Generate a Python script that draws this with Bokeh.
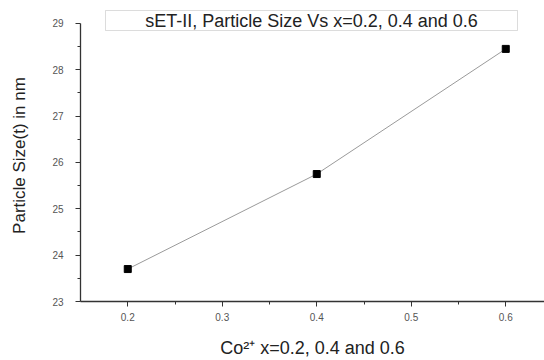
from bokeh.plotting import figure
from bokeh.models import Label, BoxAnnotation, Range1d, FixedTicker
from bokeh.embed import file_html
from bokeh.resources import INLINE

# Cobalt content x and measured particle size (nm)
x_values = [0.2, 0.4, 0.6]
size_nm = [23.70, 25.75, 28.45]

x_ticks = [0.2, 0.3, 0.4, 0.5, 0.6]
y_ticks = [23, 24, 25, 26, 27, 28, 29]

title_text = "sET-II, Particle Size Vs x=0.2, 0.4 and 0.6"
y_label_text = "Particle Size(t) in nm"
x_label_text = "Co\u00b2\u207a x=0.2, 0.4 and 0.6"

FONT = "Liberation Sans"

W, H = 544, 360
LEFT, TOP, BOTTOM = 80, 9, 58
FRAME_BOTTOM = H - BOTTOM  # canvas row of the frame's bottom edge


def sx(px):
    """Canvas column -> frame-relative screen x."""
    return px - LEFT


def sy(py):
    """Canvas row (from top) -> frame-relative screen y (from bottom)."""
    return FRAME_BOTTOM - py


# y range runs a little past 29 so the boxed title sits inside the frame;
# the axis itself is bounded to 23..29
p = figure(width=W, height=H, output_backend="svg", toolbar_location=None,
           x_range=Range1d(0.15, 0.641), y_range=Range1d(23, 29.3),
           min_border_left=LEFT, min_border_right=0, min_border_top=TOP,
           min_border_bottom=BOTTOM)
p.outline_line_color = None
p.grid.visible = False
p.background_fill_color = "white"
p.border_fill_color = "white"

for ax in (p.xaxis[0], p.yaxis[0]):
    ax.axis_line_color = "#333333"
    ax.axis_line_width = 1.3
    ax.major_tick_line_color = "#333333"
    ax.minor_tick_line_color = "#333333"
    ax.major_tick_out = 5
    ax.major_tick_in = 0
    ax.minor_tick_out = 3
    ax.minor_tick_in = 0
    ax.major_label_text_font = FONT
    ax.major_label_text_font_size = "10px"
    ax.major_label_text_color = "#555555"
    ax.axis_label_text_font = FONT
    ax.axis_label_text_font_style = "normal"
    ax.axis_label_text_color = "#222222"

p.yaxis.bounds = (23, 29)
p.xaxis.ticker = FixedTicker(ticks=x_ticks, minor_ticks=[0.25, 0.35, 0.45, 0.55])
p.yaxis.ticker = FixedTicker(ticks=y_ticks,
                             minor_ticks=[23.5, 24.5, 25.5, 26.5, 27.5, 28.5])
p.xaxis.major_label_standoff = 6
p.yaxis.major_label_standoff = 12

p.yaxis.axis_label = y_label_text
p.yaxis.axis_label_text_font_size = "17px"
p.yaxis.axis_label_standoff = 20
p.xaxis.axis_label = x_label_text
p.xaxis.axis_label_text_font_size = "18px"
p.xaxis.axis_label_standoff = 14

p.line(x_values, size_nm, line_color="#9a9a9a", line_width=1)
p.scatter(x_values, size_nm, marker="square", size=7, fill_color="black",
          line_color="black")

# Boxed title
p.add_layout(BoxAnnotation(left=sx(105), right=sx(517), top=sy(11), bottom=sy(31),
                           left_units="screen", right_units="screen",
                           top_units="screen", bottom_units="screen",
                           fill_color="white", fill_alpha=1,
                           line_color="#8c8c8c", line_width=1))
p.add_layout(Label(x=sx(311), y=sy(21), x_units="screen", y_units="screen",
                   text=title_text, text_align="center", text_baseline="middle",
                   text_font=FONT, text_font_size="18px", text_color="#222222"))

open("out.html", "w").write(file_html(p, INLINE))
